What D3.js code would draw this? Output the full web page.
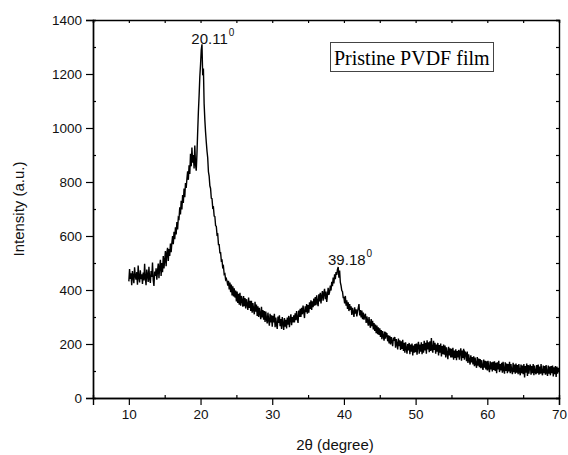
<!DOCTYPE html>
<html>
<head>
<meta charset="utf-8">
<script src="https://cdn.jsdelivr.net/npm/d3@7"></script>
<style>
  html, body { margin: 0; padding: 0; background: #fff; }
  svg { display: block; }
</style>
</head>
<body>
<svg id="chart" width="568" height="455"></svg>
<script>
// ---- data ----
const scanStart = 10;      // 2θ of first sample (degree)
const scanStep = 0.1;      // 2θ sampling step (degree)
const intensity = [
  432, 478, 441, 462, 418, 470, 449, 425, 484, 452,
  438, 466, 420, 491, 447, 428, 473, 440, 458, 422,
  465, 435, 497, 444, 418, 476, 455, 430, 486, 441,
  426, 470, 448, 502, 436, 415, 468, 452, 480, 438,
  470, 498, 444, 486, 512, 452, 500, 466, 526, 480,
  510, 544, 488, 536, 556, 508, 552, 526, 572, 540,
  574, 600, 570, 616, 588, 632, 606, 652, 624, 668,
  664, 706, 680, 730, 698, 752, 722, 776, 744, 796,
  778, 812, 840, 808, 862, 830, 905, 858, 928, 872,
  900, 850, 935, 865, 842, 905, 985, 1060, 1120, 1190,
  1235, 1290, 1310, 1195, 1220, 1090, 1030, 985, 948, 915,
  890, 838, 822, 786, 776, 740, 738, 704, 706, 674,
  672, 638, 636, 604, 606, 568, 568, 538, 538, 508,
  510, 480, 486, 458, 460, 438, 442, 432, 416, 434,
  402, 428, 392, 420, 380, 414, 376, 406, 372, 398,
  358, 394, 352, 386, 346, 390, 342, 378, 362, 338,
  378, 340, 370, 332, 366, 346, 326, 372, 334, 360,
  322, 360, 316, 352, 328, 310, 356, 320, 346, 304,
  340, 300, 334, 312, 292, 338, 298, 326, 290, 322,
  282, 320, 292, 276, 316, 288, 268, 312, 280, 306,
  264, 304, 280, 312, 262, 298, 272, 256, 302, 278,
  306, 266, 292, 256, 300, 276, 252, 296, 264, 290,
  258, 298, 272, 304, 262, 292, 310, 270, 300, 280,
  306, 280, 314, 288, 322, 294, 278, 324, 300, 330,
  300, 334, 310, 342, 318, 296, 340, 318, 348, 312,
  344, 316, 354, 330, 362, 326, 358, 336, 368, 342,
  374, 344, 380, 354, 340, 384, 358, 390, 350, 378,
  396, 360, 388, 404, 366, 394, 356, 380, 408, 382,
  392, 416, 398, 430, 414, 446, 424, 458, 440, 466,
  456, 476, 485, 446, 472, 428, 416, 398, 394, 372,
  372, 350, 378, 342, 362, 330, 354, 322, 348, 326,
  340, 308, 334, 318, 300, 336, 312, 328, 302, 322,
  334, 348, 306, 326, 298, 324, 292, 316, 290, 304,
  312, 278, 302, 284, 268, 300, 274, 260, 292, 266,
  286, 254, 278, 248, 272, 240, 268, 236, 262, 234,
  258, 226, 252, 218, 248, 230, 212, 246, 220, 240,
  238, 210, 232, 202, 230, 198, 226, 208, 192, 224,
  212, 226, 186, 218, 200, 180, 220, 192, 214, 178,
  210, 182, 216, 174, 204, 168, 206, 184, 164, 200,
  176, 204, 162, 198, 172, 202, 158, 194, 168, 200,
  170, 202, 160, 196, 208, 164, 198, 172, 206, 162,
  200, 168, 212, 176, 204, 164, 214, 180, 206, 170,
  210, 174, 222, 180, 168, 212, 178, 204, 164, 198,
  172, 204, 158, 196, 168, 202, 154, 192, 162, 198,
  160, 194, 150, 188, 164, 144, 190, 158, 184, 150,
  182, 150, 186, 142, 176, 148, 180, 140, 174, 150,
  178, 142, 172, 184, 138, 176, 148, 182, 142, 170,
  166, 136, 172, 130, 162, 140, 124, 158, 132, 152,
  124, 154, 118, 150, 126, 112, 152, 120, 146, 114,
  144, 110, 140, 116, 104, 142, 112, 138, 106, 136,
  102, 138, 110, 96, 136, 106, 132, 98, 134, 104,
  136, 100, 130, 92, 132, 106, 138, 96, 126, 102,
  130, 94, 134, 104, 90, 132, 100, 128, 92, 126,
  98, 134, 92, 126, 102, 88, 130, 96, 124, 90,
  128, 94, 122, 88, 126, 98, 84, 124, 92, 120,
  88, 126, 76, 118, 94, 128, 82, 122, 90, 116,
  124, 86, 118, 92, 126, 84, 120, 96, 88, 122,
  92, 124, 86, 116, 90, 126, 94, 84, 120, 92,
  118, 86, 122, 94, 82, 120, 90, 116, 84, 118,
  92, 120, 80, 114, 88, 118, 78, 116, 90, 112,
  96
];
const xTicks = [10, 20, 30, 40, 50, 60, 70];
const yTicks = [0, 200, 400, 600, 800, 1000, 1200, 1400];
const peakLabels = ["20.11", "39.18"];
const peakPositions = [20.11, 39.18];
const peakIntensities = [1310, 481];
const legendText = "Pristine PVDF film";
const xLabel = "2θ (degree)";
const yLabel = "Intensity (a.u.)";

// ---- layout ----
const W = 568, H = 455;
const margin = { left: 93, top: 20, right: 9, bottom: 57 };
const iw = W - margin.left - margin.right;
const ih = H - margin.top - margin.bottom;

const svg = d3.select("#chart");
const g = svg.append("g").attr("transform", `translate(${margin.left},${margin.top})`);

const x = d3.scaleLinear().domain([5, 70]).range([0, iw]);
const y = d3.scaleLinear().domain([0, 1400]).range([ih, 0]);

const tickFont = "Liberation Sans, Arial, sans-serif";

// data line
const pts = intensity.map((v, i) => [scanStart + i * scanStep, v]);
const line = d3.line().x(d => x(d[0])).y(d => y(d[1]));
g.append("path")
  .datum(pts)
  .attr("d", line)
  .attr("fill", "none")
  .attr("stroke", "#000")
  .attr("stroke-width", 1.4)
  .attr("stroke-linejoin", "miter");

// bottom axis: major outward, minor inward
const xAxis = d3.axisBottom(x).tickValues(xTicks).tickSize(7).tickPadding(4).tickFormat(d3.format("d"));
const gx = g.append("g").attr("transform", `translate(0,${ih})`).call(xAxis);
const gxm = g.append("g").attr("transform", `translate(0,${ih})`)
  .call(d3.axisBottom(x).tickValues([15, 25, 35, 45, 55, 65]).tickSize(-3).tickFormat(""));
// left axis major outward, minor inward
const yAxis = d3.axisLeft(y).tickValues(yTicks).tickSize(7).tickPadding(4).tickFormat(d3.format("d"));
const gy = g.append("g").call(yAxis);
const gym = g.append("g")
  .call(d3.axisLeft(y).tickValues([100, 300, 500, 700, 900, 1100, 1300]).tickSize(-3).tickFormat(""));
// top axis inward ticks
const gt = g.append("g")
  .call(d3.axisTop(x).tickValues(d3.range(5, 71, 5)).tickSize(-3).tickFormat(""));
// right axis inward ticks
const gr = g.append("g").attr("transform", `translate(${iw},0)`)
  .call(d3.axisRight(y).tickValues(d3.range(0, 1401, 100)).tickSize(-3).tickFormat(""));

[gx, gxm, gy, gym, gt, gr].forEach(a => {
  a.select(".domain").attr("stroke", "#000").attr("stroke-width", 1.4);
  a.selectAll(".tick line").attr("stroke", "#000").attr("stroke-width", 1.2);
});
[gx, gy].forEach(a => {
  a.selectAll(".tick text")
    .attr("font-family", tickFont)
    .attr("font-size", 13.5)
    .attr("fill", "#111");
});

// axis labels
svg.append("text")
  .attr("x", margin.left + iw / 2 + 9)
  .attr("y", 450)
  .attr("text-anchor", "middle")
  .attr("font-family", tickFont)
  .attr("font-size", 15)
  .attr("fill", "#111")
  .text(xLabel);

svg.append("text")
  .attr("transform", `translate(24,${margin.top + ih / 2}) rotate(-90)`)
  .attr("text-anchor", "middle")
  .attr("font-family", tickFont)
  .attr("font-size", 15)
  .attr("fill", "#111")
  .text(yLabel);

// peak annotations
peakLabels.forEach((lab, i) => {
  const t = g.append("text")
    .attr("x", x(peakPositions[i]) - 10)
    .attr("y", y(peakIntensities[i]) - (i === 0 ? 0 : 3))
    .attr("font-family", tickFont)
    .attr("font-size", 15)
    .attr("fill", "#111");
  t.append("tspan").text(lab);
  t.append("tspan").attr("dy", -8).attr("font-size", 10).attr("dx", 1).text("0");
});

// legend box
const lg = svg.append("g");
lg.append("rect")
  .attr("x", 330.5).attr("y", 42.5)
  .attr("width", 163).attr("height", 29)
  .attr("fill", "#fff")
  .attr("stroke", "#444")
  .attr("stroke-width", 1);
lg.append("text")
  .attr("x", 334).attr("y", 65)
  .attr("font-family", "Liberation Serif, Times New Roman, serif")
  .attr("font-size", 20)
  .attr("fill", "#000")
  .text(legendText);
</script>
</body>
</html>
